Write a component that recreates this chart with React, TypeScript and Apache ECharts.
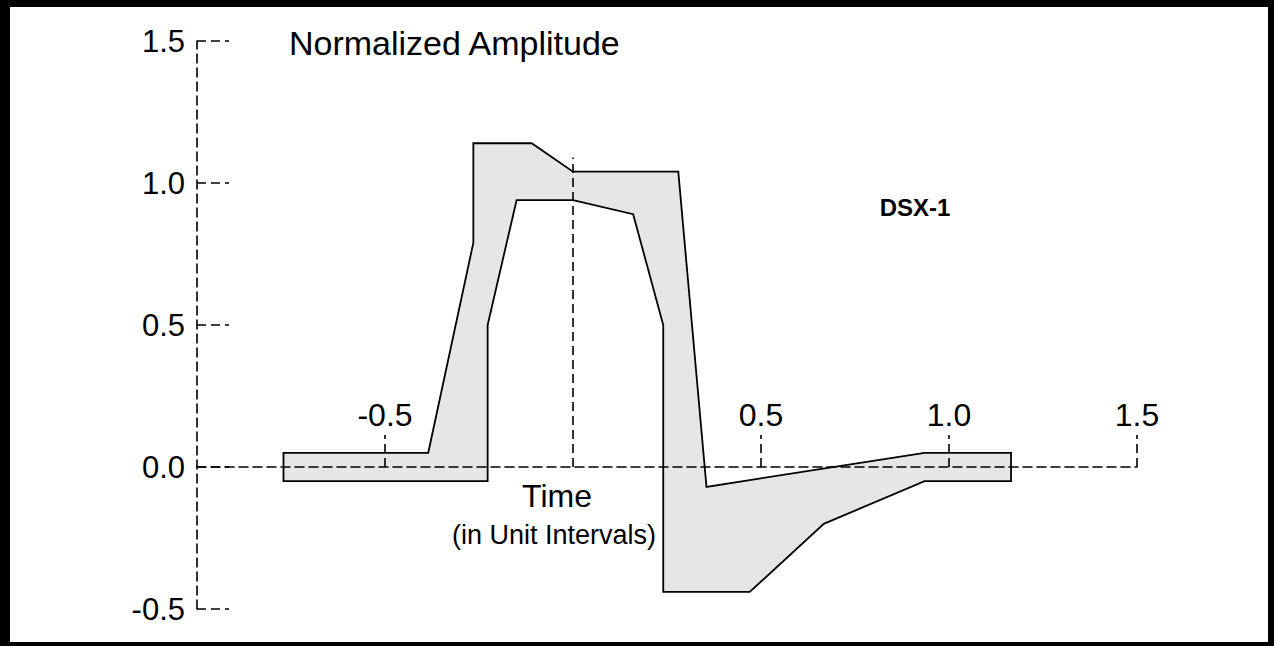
import React, { useEffect, useRef } from "react";
import * as echarts from "echarts";

// DSX-1 pulse template (time in unit intervals, normalized amplitude)
const upperTime = [-0.77, -0.385, -0.265, -0.265, -0.11, 0, 0.28, 0.355, 0.935, 1.165];
const upperAmp = [0.05, 0.05, 0.79, 1.14, 1.14, 1.04, 1.04, -0.07, 0.05, 0.05];
const lowerTime = [-0.77, -0.227, -0.227, -0.15, 0, 0.16, 0.24, 0.24, 0.47, 0.667, 0.935, 1.165];
const lowerAmp = [-0.05, -0.05, 0.5, 0.94, 0.94, 0.89, 0.5, -0.44, -0.44, -0.2, -0.05, -0.05];
const centerLineTime = [0, 0];
const centerLineAmp = [0, 1.09];
const xTickValues = [-0.5, 0.5, 1.0, 1.5];
const yTickValues = [-0.5, 0, 0.5, 1.0, 1.5];

const FONT = "'Liberation Sans', Arial, Helvetica, sans-serif";
const DASH: number[] = [9, 5];

export default function App() {
  const ref = useRef<HTMLDivElement>(null);

  useEffect(() => {
    if (!ref.current) return;
    const chart = echarts.init(ref.current, null, { renderer: "svg" });

    const outline: number[][] = [];
    upperTime.forEach((t, i) => outline.push([t, upperAmp[i]]));
    for (let i = lowerTime.length - 1; i >= 0; i--) outline.push([lowerTime[i], lowerAmp[i]]);

    const axisLineStyle = { color: "#000", width: 1.6, type: DASH };

    chart.setOption({
      animation: false,
      backgroundColor: "#fff",
      grid: { left: 197, top: 41, width: 940, height: 568, containLabel: false },
      xAxis: {
        type: "value",
        min: -1,
        max: 1.5,
        interval: 0.5,
        z: 5,
        axisLine: { show: true, onZero: true, lineStyle: axisLineStyle },
        axisTick: { show: true, inside: true, length: 32, customValues: xTickValues, lineStyle: axisLineStyle },
        axisLabel: {
          inside: true,
          margin: 178,
          customValues: xTickValues,
          formatter: (v: number) => (v === -1 || v === 0 ? "" : v.toFixed(1)),
          color: "#000",
          fontSize: 32,
          fontFamily: FONT,
        },
        splitLine: { show: false },
      },
      yAxis: {
        type: "value",
        min: -0.5,
        max: 1.5,
        interval: 0.5,
        z: 5,
        axisLine: { show: true, onZero: false, lineStyle: axisLineStyle },
        axisTick: { show: true, inside: true, length: 32, customValues: yTickValues, lineStyle: axisLineStyle },
        axisLabel: {
          margin: 12,
          customValues: yTickValues,
          formatter: (v: number) => v.toFixed(1),
          color: "#000",
          fontSize: 31,
          fontFamily: FONT,
        },
        splitLine: { show: false },
      },
      series: [
        {
          type: "custom",
          name: "DSX-1 mask",
          coordinateSystem: "cartesian2d",
          silent: true,
          z: 1,
          data: [[0, 0]],
          renderItem: (_params: any, api: any) => {
            const pts = outline.map((p) => api.coord(p));
            return {
              type: "polygon",
              shape: { points: pts },
              style: { fill: "#e6e6e6", stroke: "#000", lineWidth: 1.8, lineJoin: "miter" },
            };
          },
        },
        {
          type: "line",
          name: "center",
          silent: true,
          z: 3,
          symbol: "none",
          data: centerLineTime.map((t, i) => [t, centerLineAmp[i]]),
          lineStyle: { color: "#000", width: 1.6, type: DASH },
        },
      ],
      graphic: [
        { type: "rect", shape: { x: 0, y: 0, width: 1274, height: 7 }, style: { fill: "#000" } },
        { type: "rect", shape: { x: 0, y: 0, width: 10, height: 646 }, style: { fill: "#000" } },
        { type: "rect", shape: { x: 1268, y: 0, width: 6, height: 646 }, style: { fill: "#000" } },
        { type: "rect", shape: { x: 0, y: 642, width: 1274, height: 4 }, style: { fill: "#000" } },
        {
          type: "text",
          x: 289,
          y: 43,
          style: { text: "Normalized Amplitude", fontSize: 34, fontFamily: FONT, fill: "#000", align: "left", verticalAlign: "middle" },
        },
        {
          type: "text",
          x: 557,
          y: 496,
          style: { text: "Time", fontSize: 32, fontFamily: FONT, fill: "#000", align: "center", verticalAlign: "middle" },
        },
        {
          type: "text",
          x: 554,
          y: 535,
          style: { text: "(in Unit Intervals)", fontSize: 27, fontFamily: FONT, fill: "#000", align: "center", verticalAlign: "middle" },
        },
        {
          type: "text",
          x: 915,
          y: 207,
          style: { text: "DSX-1", fontSize: 24, fontWeight: "bold", fontFamily: FONT, fill: "#000", align: "center", verticalAlign: "middle" },
        },
      ],
    });

    return () => chart.dispose();
  }, []);

  return (
    <div
      ref={ref}
      style={{ position: "fixed", left: 0, top: 0, width: 1274, height: 646, background: "#fff" }}
    />
  );
}
